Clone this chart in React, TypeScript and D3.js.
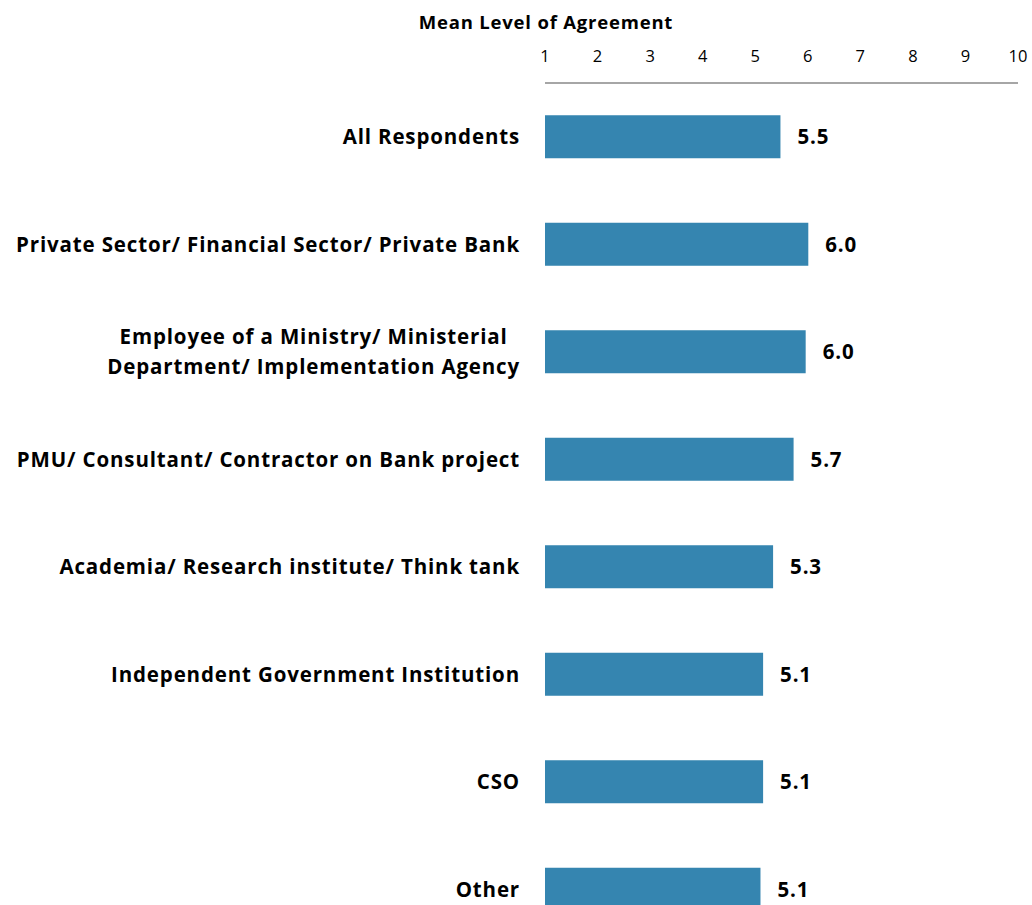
import * as d3 from "d3"
import { useRef, useEffect } from "react"

const categories = [
  "All Respondents",
  "Private Sector/ Financial Sector/ Private Bank",
  "Employee of a Ministry/ Ministerial|Department/ Implementation Agency",
  "PMU/ Consultant/ Contractor on Bank project",
  "Academia/ Research institute/ Think tank",
  "Independent Government Institution",
  "CSO",
  "Other",
]
const meanValues = [5.48, 6.01, 5.96, 5.73, 5.34, 5.15, 5.15, 5.1]
const valueLabels = ["5.5", "6.0", "6.0", "5.7", "5.3", "5.1", "5.1", "5.1"]
const tickValues = [1, 2, 3, 4, 5, 6, 7, 8, 9, 10]
const axisTitle = "Mean Level of Agreement"

const FONT = "'Open Sans', Lato, sans-serif"

const App = () => {
  const svgRef = useRef<SVGSVGElement>(null)
  const width = 1032
  const height = 905

  useEffect(() => {
    const svg = d3.select(svgRef.current)
    svg.selectAll("*").remove()

    const x = d3.scaleLinear().domain([1, 10]).range([545, 1018])
    const y = d3
      .scaleBand()
      .domain(categories)
      .range([83, 943])
      .paddingInner(0.6)
      .paddingOuter(0.3)

    // title
    svg
      .append("text")
      .attr("x", 546)
      .attr("y", 29)
      .attr("text-anchor", "middle")
      .attr("font-family", FONT)
      .attr("font-weight", "bold")
      .attr("font-size", "18.5px")
      .attr("letter-spacing", "0.8px")
      .text(axisTitle)

    // top axis: tick labels + line
    svg
      .append("g")
      .selectAll("text")
      .data(tickValues)
      .join("text")
      .attr("x", (d) => x(d))
      .attr("y", 62)
      .attr("text-anchor", "middle")
      .attr("font-family", FONT)
      .attr("font-size", "16.5px")
      .attr("fill", "#000")
      .text((d) => d)
    svg
      .append("line")
      .attr("x1", x(1))
      .attr("x2", x(10))
      .attr("y1", 83)
      .attr("y2", 83)
      .attr("stroke", "#a6a6a6")
      .attr("stroke-width", 2)

    // bars
    svg
      .append("g")
      .selectAll("rect")
      .data(categories)
      .join("rect")
      .attr("x", x(1))
      .attr("y", (d) => y(d)!)
      .attr("width", (d, i) => x(meanValues[i]) - x(1))
      .attr("height", y.bandwidth())
      .attr("fill", "#3585b0")

    // value labels
    svg
      .append("g")
      .selectAll("text")
      .data(categories)
      .join("text")
      .attr("x", (d, i) => x(meanValues[i]) + 17)
      .attr("y", (d) => y(d)! + y.bandwidth() / 2 + 7.5)
      .attr("font-family", FONT)
      .attr("font-weight", "bold")
      .attr("font-size", "20.5px")
      .attr("letter-spacing", "0.85px")
      .text((d, i) => valueLabels[i])

    // category labels (multi line ones are centred on the widest line)
    categories.forEach((c) => {
      const lines = c.split("|")
      const cy = y(c)! + y.bandwidth() / 2
      const g = svg.append("g")
      const texts = lines.map((line, j) =>
        g
          .append("text")
          .attr("y", cy + 7.5 + (j - (lines.length - 1) / 2) * 30)
          .attr("font-family", FONT)
          .attr("font-weight", "bold")
          .attr("font-size", "20.5px")
          .attr("letter-spacing", "0.85px")
          .text(line)
      )
      if (lines.length === 1) {
        texts[0].attr("x", 520).attr("text-anchor", "end")
      } else {
        const widths = texts.map((t) => (t.node() as SVGTextElement).getComputedTextLength())
        const mid = 520 - d3.max(widths)! / 2
        texts.forEach((t) => t.attr("x", mid).attr("text-anchor", "middle"))
      }
    })
  }, [])

  return (
    <svg
      ref={svgRef}
      width={width}
      height={height}
      style={{ position: "absolute", left: 0, top: 0, background: "#fff" }}
    />
  )
}

export default App
